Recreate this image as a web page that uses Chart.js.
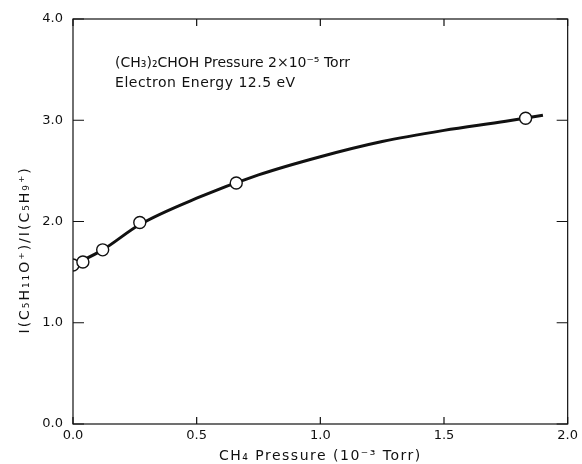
<!DOCTYPE html>
<html>
<head>
<meta charset="utf-8">
<script src="https://cdn.jsdelivr.net/npm/chart.js@4.4.1/dist/chart.umd.min.js"></script>
<style>
html,body{margin:0;padding:0;background:#fff;}
#wrap{width:582px;height:464px;}
</style>
</head>
<body>
<div id="wrap"><canvas id="c" width="582" height="464"></canvas></div>
<script>
// Measured points
const pressure = [0.0, 0.04, 0.12, 0.27, 0.66, 1.83];
const ratio = [1.57, 1.60, 1.72, 1.99, 2.38, 3.02];
// Drawn smooth curve
const curveX = [0.0, 0.12, 0.27, 0.5, 0.75, 1.0, 1.25, 1.5, 1.75, 1.9];
const curveY = [1.57, 1.72, 1.97, 2.23, 2.46, 2.64, 2.79, 2.90, 2.99, 3.05];
// Tick labels
const xTickLabels = ['0.0', '0.5', '1.0', '1.5', '2.0'];
const yTickLabels = ['0.0', '1.0', '2.0', '3.0', '4.0'];
// Texts
const xTitle = 'CH₄ Pressure (10⁻³ Torr)';
const yTitle = 'I(C₅H₁₁O⁺)/I(C₅H₉⁺)';
const noteLines = ['(CH₃)₂CHOH Pressure 2×10⁻⁵ Torr', 'Electron Energy 12.5 eV'];
const notePos = [[0.17, 3.53], [0.17, 3.33]];
const yTitleCenter = 1.72;

const FONT = '"DejaVu Sans", sans-serif';
const INK = '#111';

const boxPlugin = {
  id: 'boxTicks',
  afterDatasetsDraw(chart) {
    const {ctx, chartArea: a, scales: {x, y}} = chart;
    ctx.save();
    ctx.strokeStyle = INK;
    ctx.lineWidth = 1.2;
    ctx.strokeRect(a.left, a.top, a.right - a.left, a.bottom - a.top);
    const L = 7;
    ctx.beginPath();
    x.ticks.forEach(t => {
      const px = x.getPixelForValue(t.value);
      ctx.moveTo(px, a.bottom); ctx.lineTo(px, a.bottom - L);
      ctx.moveTo(px, a.top); ctx.lineTo(px, a.top + L);
    });
    y.ticks.forEach(t => {
      const py = y.getPixelForValue(t.value);
      ctx.moveTo(a.left, py); ctx.lineTo(a.left + L + 4, py);
      ctx.moveTo(a.right, py); ctx.lineTo(a.right - L - 4, py);
    });
    ctx.stroke();
    ctx.fillStyle = INK;
    // annotation
    ctx.font = '14px ' + FONT;
    ctx.textBaseline = 'alphabetic';
    ctx.textAlign = 'left';
    noteLines.forEach((s, i) => {
      ctx.letterSpacing = i === 0 ? '0px' : '0.5px';
      ctx.fillText(s, x.getPixelForValue(notePos[i][0]), y.getPixelForValue(notePos[i][1]));
    });
    // x title
    ctx.letterSpacing = '1.5px';
    ctx.textAlign = 'center';
    ctx.textBaseline = 'middle';
    ctx.fillText(xTitle, (a.left + a.right) / 2, a.bottom + 32);
    // y title
    ctx.letterSpacing = '2px';
    ctx.translate(25, y.getPixelForValue(yTitleCenter));
    ctx.rotate(-Math.PI / 2);
    ctx.fillText(yTitle, 0, 0);
    ctx.restore();
  }
};

new Chart(document.getElementById('c'), {
  type: 'scatter',
  data: {
    datasets: [
      {
        label: 'points',
        data: pressure.map((v, i) => ({x: v, y: ratio[i]})),
        showLine: false,
        pointRadius: 6,
        pointHoverRadius: 6,
        pointBackgroundColor: '#fff',
        pointBorderColor: INK,
        pointBorderWidth: 1.4,
        order: 0
      },
      {
        label: 'curve',
        data: curveX.map((v, i) => ({x: v, y: curveY[i]})),
        showLine: true,
        borderColor: INK,
        borderWidth: 3,
        pointRadius: 0,
        cubicInterpolationMode: 'monotone',
        order: 1
      }
    ]
  },
  options: {
    responsive: false,
    animation: false,
    devicePixelRatio: 1,
    layout: {padding: {left: 0, right: 9, top: 19, bottom: 0}},
    plugins: {legend: {display: false}, tooltip: {enabled: false}},
    scales: {
      x: {
        type: 'linear', min: 0, max: 2,
        grid: {display: false, drawTicks: false},
        border: {display: false},
        ticks: {
          stepSize: 0.5, padding: 4, color: INK,
          font: {family: FONT, size: 13},
          maxRotation: 0,
          callback: (v) => xTickLabels[Math.round(v * 2)]
        },
        title: {display: false},
        afterFit: (s) => { s.height = 40; }
      },
      y: {
        type: 'linear', min: 0, max: 4,
        grid: {display: false, drawTicks: false},
        border: {display: false},
        ticks: {
          stepSize: 1, padding: 10, color: INK,
          font: {family: FONT, size: 13},
          callback: (v) => yTickLabels[Math.round(v)]
        },
        title: {display: false},
        afterFit: (s) => { s.width = 73; }
      }
    }
  },
  plugins: [boxPlugin]
});
</script>
</body>
</html>
